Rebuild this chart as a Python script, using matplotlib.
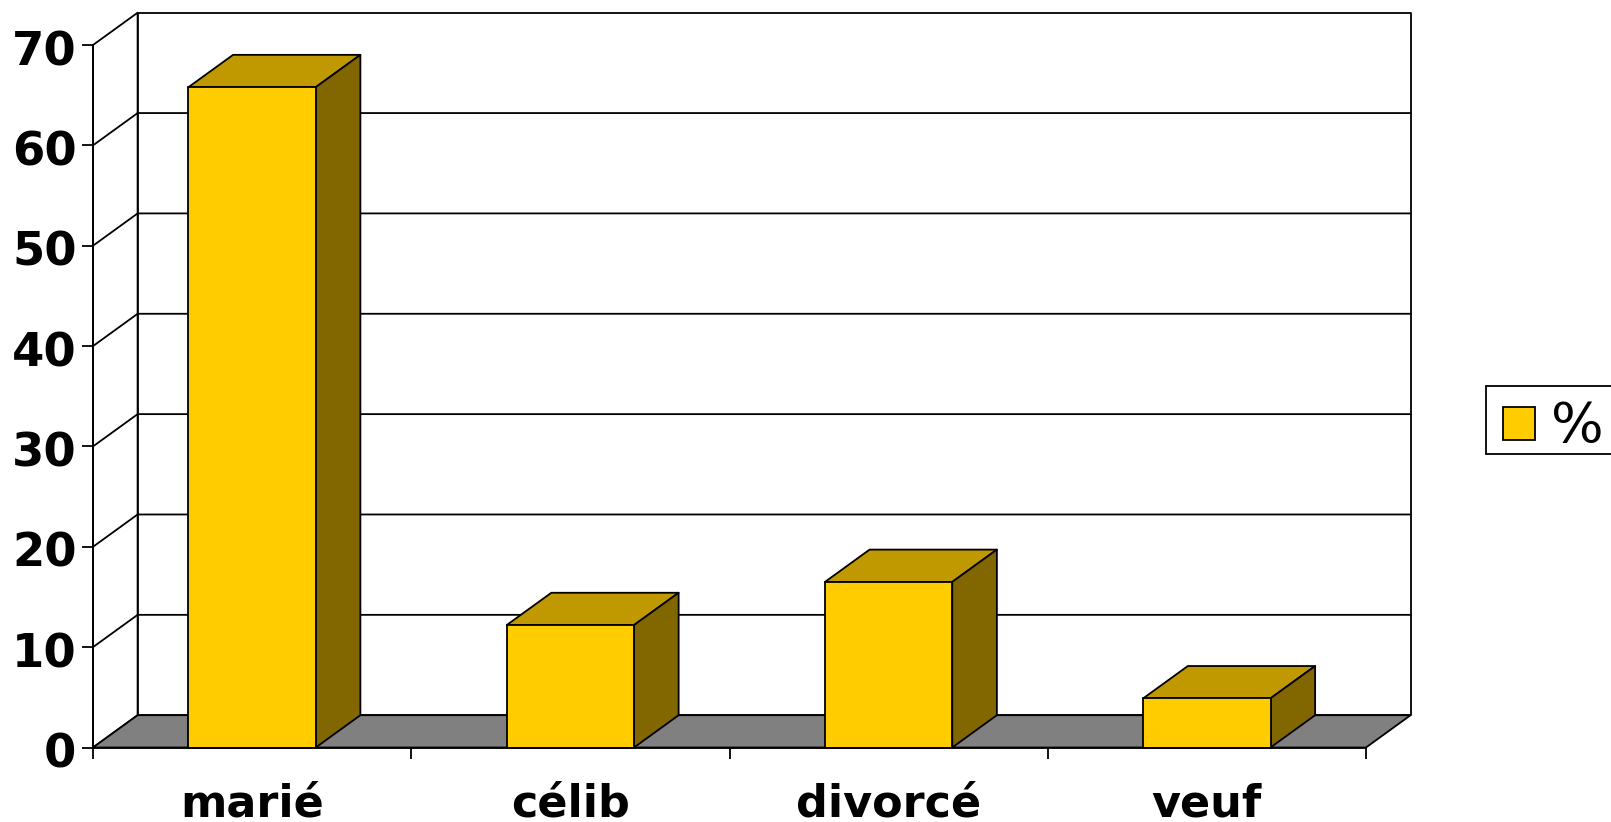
import matplotlib
matplotlib.use("Agg")
import matplotlib.pyplot as plt
from matplotlib.patches import Polygon
from matplotlib.transforms import ScaledTranslation

categories = ["marié", "célib", "divorcé", "veuf"]
values = [65.8, 12.2, 16.5, 4.9]
yticks = [0, 10, 20, 30, 40, 50, 60, 70]
series_name = "%"

W, H = 1611, 822
L, R, B, T = 93, 1366, 747.5, 45   # front plane, px
fig = plt.figure(figsize=(W / 100, H / 100), dpi=100, facecolor="white")
ax = fig.add_axes([L / W, (H - B) / H, (R - L) / W, (B - T) / H])
ax.set_xlim(0, len(categories))
ax.set_ylim(0, 70)
ax.patch.set_visible(False)

# oblique depth in data units
dx = 44.6 / ((R - L) / len(categories))
dy = 32.3 / ((B - T) / 70)
LW = 1.3
K = "black"
n = len(categories)
top = yticks[-1]

def poly(pts, fc, z):
    ax.add_patch(Polygon(pts, closed=True, facecolor=fc, edgecolor=K, lw=LW,
                         joinstyle="round", zorder=z, clip_on=False))

# walls
poly([(0, 0), (dx, dy), (dx, top + dy), (0, top)], "white", 1)
poly([(dx, dy), (n + dx, dy), (n + dx, top + dy), (dx, top + dy)], "white", 1)
# gridlines on both walls
for v in yticks[1:-1]:
    ax.plot([0, dx, n + dx], [v, v + dy, v + dy], color=K, lw=LW, zorder=2,
            clip_on=False, solid_joinstyle="miter")
# floor
poly([(0, 0), (dx, dy), (n + dx, dy), (n, 0)], "#808080", 3)

# bars
gap = 1.5
width = 1 / (1 + gap)
xs = [i + 0.5 for i in range(n)]
bars = ax.bar(xs, values, width=width, color="#FFCC00", edgecolor=K, lw=LW,
              zorder=6, label=series_name, clip_on=False)
for x, v in zip(xs, values):
    a, b = x - width / 2, x + width / 2
    poly([(a, v), (a + dx, v + dy), (b + dx, v + dy), (b, v)], "#C09900", 5)
    poly([(b, 0), (b + dx, dy), (b + dx, v + dy), (b, v)], "#826600", 5)

# axes
for s in ("top", "right"):
    ax.spines[s].set_visible(False)
for s in ("left", "bottom"):
    ax.spines[s].set_linewidth(LW)
    ax.spines[s].set_zorder(7)
ax.set_yticks(yticks)
ax.set_xticks(range(n + 1))
ax.set_xticklabels([])
ax.set_xticks(xs, labels=categories, minor=True)
ax.tick_params(axis="both", which="major", length=8, width=LW, color=K)
ax.tick_params(axis="y", pad=3.8, labelsize=33.5)
ax.tick_params(axis="x", which="minor", length=0, pad=25, labelsize=32)
for t in ax.get_yticklabels() + ax.get_xticklabels(minor=True):
    t.set_fontweight("bold")
    t.set_color(K)
    t.set_family("DejaVu Sans")
down = ScaledTranslation(0, -1.8 / 72, fig.dpi_scale_trans)
for t in ax.get_yticklabels():
    t.set_transform(t.get_transform() + down)

# legend (its right edge runs off the figure, as in the reference)
leg = ax.legend(handles=[bars], loc="center left",
                bbox_to_anchor=(1486 / W, (H - 420) / H, 150 / W, 0),
                bbox_transform=fig.transFigure, mode="expand",
                fontsize=40, frameon=True, fancybox=False, framealpha=1,
                edgecolor=K, borderaxespad=0, borderpad=0.13,
                handlelength=0.57, handleheight=0.55, handletextpad=0.42)
leg.get_frame().set_linewidth(LW)
h = leg.legend_handles[0]
h.set_x(h.get_x() + 7)
h.set_y(h.get_y() - 6)
txt = leg.get_texts()[0]
txt.set_position((3, -7))

fig.savefig("out.png", dpi=100)
